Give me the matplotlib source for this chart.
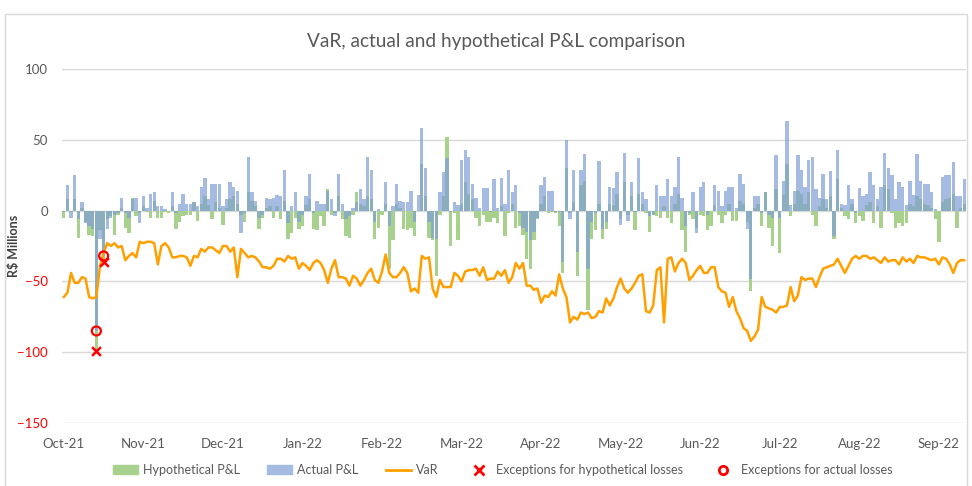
import matplotlib
matplotlib.use("Agg")
import matplotlib.pyplot as plt
import numpy as np
from matplotlib.patches import Patch, Rectangle
from matplotlib.lines import Line2D

plt.rcParams['font.family'] = ['Lato', 'DejaVu Sans']

# daily hypothetical P&L (R$ millions), Oct-21 .. Sep-22
hypo_pnl = [
    -5, 8, -1, 8, -19, 2, -8, -17, -18, -99, -14, -36, -6, -4, -17, -3, 2, -12, -16, 9, -4,
    -2, 3, -1, -5, 7, -5, -5, -1, -2, 3, -13, -8, -4, -3, -3, 6, -7, 5, 10, 4,
    -6, 6, 2, -10, 2, 8, 10, 5, -3, -8, 13, 7, 3, -13, -5, 2, 3, -5, 3, -6, 7,
    -20, -16, -5, -13, -11, 4, 8, -13, -14, -4, -11, 15, -3, -2, 10, -6, -18, -19, -3, 13,
    5, 3, 10, 8, -20, -12, -3, 5, -41, -21, 5, 2, -13, -14, -12, -18, 0, 33, 10, -19, -21,
    -46, -3, 10, 52, -25, -2, -21, 5, 20, 12, 8, -5, -11, -3, -8, -8, -5, -9, 3, -18, -2,
    5, -12, -11, -17, -34, -41, -21, -6, 5, 10, -2, -1, -2, -11, -44, 30, -2, 6, -46, 18, 21,
    -70, -20, -14, 5, -20, -13, 5, 4, 12, -6, 20, -3, 10, -14, 12, 5, -2, -15, -3, -4, -5,
    3, -5, -9, 5, 12, -14, -29, -3, -6, -12, -3, -4, -14, -11, 4, -3, -9, -3, 5, -7, -7,
    7, 5, -8, -57, 2, 5, -11, 13, -12, -25, 15, -30, 11, 33, -4, 5, 14, 12, 5, 13,
    -3, -11, 3, 8, 2, 10, -20, 22, 2, -4, -6, 5, -9, -4, -7, 4, 6, -9, 3, -12, 18,
    15, -2, -12, -9, -11, -9, 5, 3, 10, 8, 5, 4, 2, -6, -22, 6, 8, 9, 12, -12, 2, 5,
]

# daily actual P&L (R$ millions)
actual_pnl = [
    -1, 18, -5, 25, -6, 6, -9, -11, -13, -85, -20, -32, -13, -5, -3, -2, 9, -2, -5, 8, 9,
    -9, 10, 2, 12, 13, 3, 3, 1, 0, 13, -2, 5, 12, 5, 5, 6, 3, 17, 23, 8,
    19, 19, 19, 3, 8, 20, 17, 14, -16, -2, 38, 13, 7, -5, -3, 9, 8, 9, 11, 10, 29,
    -9, 3, 13, -8, -3, 10, 26, -2, 7, 5, 5, 14, 8, -4, 26, 5, -6, -4, 2, 6,
    15, 8, 38, 29, -8, 1, 0, 20, -11, 3, 19, 7, 6, 6, 14, -8, 11, 58, 30, -8, -19,
    -20, 13, 27, 37, -1, 6, 4, 36, 43, 38, 19, 9, 2, 16, 16, -1, 22, 2, 23, 5, 29,
    13, 18, -2, -12, -15, -21, -15, -5, 18, 24, 14, 14, -1, -1, -36, 50, -6, 29, -29, 29, 40,
    -41, -8, -2, 35, -13, -8, 17, 16, 27, -10, 41, -7, 20, -1, 37, 13, 8, -4, -3, 18, 10,
    10, 22, 10, 17, 38, 9, -11, -2, 13, -16, 17, 20, -3, 0, 18, 14, 3, 14, 17, 17, 2,
    26, 19, -13, -48, 10, 10, -2, 13, -3, -5, 39, -5, 21, 63, 4, 14, 39, 29, 17, 36,
    38, 15, 9, 26, 8, 28, -18, 43, 5, 4, 18, 8, -2, 16, 10, 12, 27, 18, 8, 17, 41,
    30, 25, 8, 20, 17, 4, 21, 11, 40, 21, 19, 19, 13, 1, 0, 24, 25, 25, 34, 10, 10, 22,
]

# daily VaR (R$ millions)
var_line = [
    -61, -58, -44, -51, -51, -47, -48, -61, -62, -61, -39, -30, -23, -25, -23, -26, -25, -35, -32, -30, -33,
    -22, -23, -22, -22, -23, -38, -25, -23, -26, -33, -33, -32, -32, -33, -39, -32, -33, -27, -29, -26,
    -26, -28, -30, -25, -25, -29, -26, -47, -27, -30, -33, -32, -33, -36, -40, -40, -41, -39, -34, -34, -36,
    -32, -34, -33, -41, -37, -39, -42, -37, -35, -37, -42, -51, -41, -35, -47, -47, -48, -53, -46, -48,
    -53, -49, -44, -41, -49, -51, -43, -31, -44, -47, -47, -44, -40, -44, -57, -55, -58, -32, -34, -33, -55,
    -61, -49, -54, -54, -54, -44, -46, -50, -43, -42, -42, -41, -46, -40, -49, -48, -48, -43, -46, -42, -51,
    -47, -37, -41, -37, -53, -53, -56, -55, -65, -60, -61, -57, -60, -45, -55, -61, -79, -75, -77, -72, -73,
    -72, -76, -75, -71, -72, -62, -67, -62, -54, -48, -55, -58, -55, -51, -46, -45, -71, -72, -67, -42, -40,
    -79, -34, -33, -43, -37, -34, -37, -49, -46, -42, -39, -44, -44, -40, -40, -54, -57, -58, -68, -61, -71,
    -76, -83, -85, -92, -89, -84, -61, -68, -69, -70, -72, -68, -68, -67, -54, -64, -60, -47, -49, -48,
    -48, -54, -47, -41, -40, -39, -38, -34, -39, -44, -39, -34, -32, -34, -32, -32, -34, -33, -35, -37, -33,
    -36, -35, -35, -38, -33, -36, -34, -37, -32, -33, -33, -34, -35, -34, -38, -33, -34, -38, -44, -37, -35, -35,
]

month_labels = ['Oct-21', 'Nov-21', 'Dec-21', 'Jan-22', 'Feb-22', 'Mar-22',
                'Apr-22', 'May-22', 'Jun-22', 'Jul-22', 'Aug-22', 'Sep-22']

hypo = np.array(hypo_pnl, dtype=float)
actual = np.array(actual_pnl, dtype=float)
var = np.array(var_line, dtype=float)
x = np.arange(len(var))

# backtesting exceptions: loss below VaR
exc_h = hypo < var
exc_a = actual < var

green = '#A9D18E'
blue = '#7F9FD6'
orange = '#FFA000'
grey = '#595959'

fig = plt.figure(figsize=(9.72, 4.86), dpi=100)
ax = fig.add_axes([0.0638, 0.1296, 0.9300, 0.7284])

ax.bar(x, hypo, width=0.92, color=green, linewidth=0, zorder=2)
ax.bar(x, actual, width=0.92, color=blue, alpha=0.7, linewidth=0, zorder=3)
ax.plot(x, var, color=orange, lw=1.8, zorder=4)
ax.scatter(x[exc_h], hypo[exc_h], marker='x', color='red', s=40, linewidths=1.8, zorder=5)
ax.scatter(x[exc_a], actual[exc_a], marker='o', facecolors='none', edgecolors='red',
           s=42, linewidths=1.6, zorder=6)

ax.set_xlim(-0.5, len(x) - 0.5)
ax.set_ylim(-150, 100)
ax.set_yticks([-150, -100, -50, 0, 50, 100])
ax.set_xticks(np.arange(0, len(x), 22)[:len(month_labels)])
ax.set_xticklabels(month_labels)
ax.tick_params(axis='x', length=0, labelsize=9.5, colors=grey, pad=11)
ax.tick_params(axis='y', length=0, labelsize=9.5, colors=grey, pad=10)
for t in ax.get_yticklabels():
    if t.get_text().startswith('−') or t.get_text().startswith('-'):
        t.set_color('red')
ax.grid(axis='y', color='#D9D9D9', lw=1, zorder=0)
ax.set_axisbelow(True)
for s in ax.spines.values():
    s.set_visible(False)
ax.set_ylabel('R$ Millions', fontsize=9, color='#404040', fontweight='bold')
ax.yaxis.set_label_coords(-0.047, 0.5)

fig.text(0.51, 0.915, 'VaR, actual and hypothetical P&L comparison', ha='center', va='center',
         fontsize=13.7, color=grey)

handles = [Patch(color=green), Patch(color='#A5BCE2'),
           Line2D([], [], color=orange, lw=2),
           Line2D([], [], marker='x', color='red', ls='none', markersize=7, mew=2),
           Line2D([], [], marker='o', mfc='none', mec='red', ls='none', markersize=6, mew=2)]
labels = ['Hypothetical P&L', 'Actual P&L', 'VaR', 'Exceptions for hypothetical losses',
          'Exceptions for actual losses']
fig.legend(handles, labels, loc='center', bbox_to_anchor=(0.517, 0.033), ncol=5, frameon=False,
           fontsize=9, labelcolor=grey, handlelength=2.0, handleheight=0.7,
           handletextpad=0.4, columnspacing=2.2)

fig.patches.append(Rectangle((0.005, -0.01), 0.99, 0.981, transform=fig.transFigure,
                             fill=False, edgecolor='#D9D9D9', lw=1))

fig.savefig('out.png', dpi=100)
